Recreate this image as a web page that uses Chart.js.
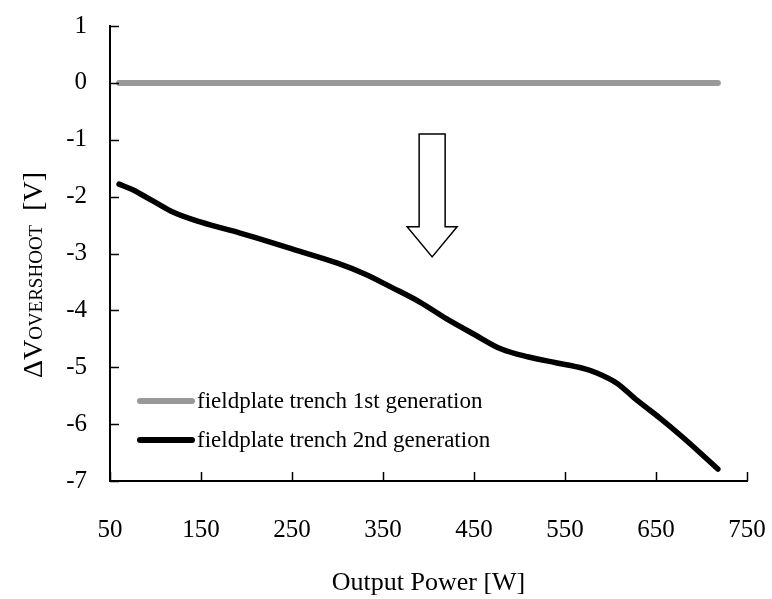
<!DOCTYPE html>
<html>
<head>
<meta charset="utf-8">
<script src="https://cdn.jsdelivr.net/npm/chart.js@4.4.0/dist/chart.umd.min.js"></script>
<style>
  body { margin: 0; background: #fff; }
</style>
</head>
<body>
<canvas id="overshootChart" width="772" height="599"></canvas>
<script>
// values
const xTicks = [50, 150, 250, 350, 450, 550, 650, 750];
const yTicks = [1, 0, -1, -2, -3, -4, -5, -6, -7];

const gen1Power = [60, 718];
const gen1Delta = [0, 0];

const gen2Power = [60, 75, 83, 100, 119, 150, 193, 210, 250, 300, 330, 360, 390, 420, 450, 480, 510, 540, 570, 585, 607, 629, 654, 680, 718];
const gen2Delta = [-1.78, -1.88, -1.95, -2.1, -2.27, -2.45, -2.64, -2.72, -2.92, -3.17, -3.36, -3.6, -3.85, -4.15, -4.42, -4.68, -4.82, -4.92, -5.02, -5.1, -5.28, -5.58, -5.89, -6.24, -6.79];

const seriesNames = ['fieldplate trench 1st generation', 'fieldplate trench 2nd generation'];

// hollow arrow in data units
const arrowX = 404;
const arrowTop = -0.9;
const arrowNeck = -2.53;
const arrowTip = -3.06;

const serif = "'Liberation Serif', 'Times New Roman', serif";

function toPoints(xs, ys) {
    return xs.map((x, i) => ({ x: x, y: ys[i] }));
}

const decorations = {
    id: 'decorations',
    afterDraw(chart) {
        const ctx = chart.ctx;
        const xs = chart.scales.x;
        const ys = chart.scales.y;
        const area = chart.chartArea;

        // inward tick marks
        ctx.save();
        ctx.strokeStyle = '#000';
        ctx.lineWidth = 1.5;
        ctx.beginPath();
        yTicks.forEach(v => {
            const py = Math.round(ys.getPixelForValue(v)) + 0.5;
            ctx.moveTo(area.left, py);
            ctx.lineTo(area.left + 9, py);
        });
        xTicks.forEach(v => {
            const px = Math.round(xs.getPixelForValue(v)) + 0.5;
            ctx.moveTo(px, area.bottom);
            ctx.lineTo(px, area.bottom - 9);
        });
        ctx.stroke();

        // arrow
        const cx = xs.getPixelForValue(arrowX);
        const top = ys.getPixelForValue(arrowTop);
        const neck = ys.getPixelForValue(arrowNeck);
        const tip = ys.getPixelForValue(arrowTip);
        const shaft = 13, head = 25;
        ctx.beginPath();
        ctx.moveTo(cx - shaft, top);
        ctx.lineTo(cx + shaft, top);
        ctx.lineTo(cx + shaft, neck);
        ctx.lineTo(cx + head, neck);
        ctx.lineTo(cx, tip);
        ctx.lineTo(cx - head, neck);
        ctx.lineTo(cx - shaft, neck);
        ctx.closePath();
        ctx.fillStyle = '#fff';
        ctx.fill();
        ctx.lineWidth = 1.5;
        ctx.stroke();

        // legend inside the plot
        ctx.font = '23px ' + serif;
        ctx.textBaseline = 'middle';
        ctx.textAlign = 'left';
        chart.data.datasets.forEach((ds, i) => {
            const ly = area.bottom - 80 + i * 39;
            ctx.beginPath();
            ctx.strokeStyle = ds.borderColor;
            ctx.lineWidth = 6;
            ctx.lineCap = 'round';
            ctx.moveTo(area.left + 30, ly);
            ctx.lineTo(area.left + 82, ly);
            ctx.stroke();
            ctx.fillStyle = '#000';
            ctx.fillText(ds.label, area.left + 87, ly + 1);
        });

        // y axis title: ΔV with small-caps subscript
        ctx.translate(42, 275);
        ctx.rotate(-Math.PI / 2);
        ctx.textBaseline = 'alphabetic';
        const parts = [
            { t: '\u0394V', f: '28px ' + serif },
            { t: 'OVERSHOOT', f: '19px ' + serif },
            { t: '  [V]', f: '28px ' + serif }
        ];
        let total = 0;
        parts.forEach(p => { ctx.font = p.f; p.w = ctx.measureText(p.t).width; total += p.w; });
        let pos = -total / 2;
        ctx.fillStyle = '#000';
        parts.forEach(p => {
            ctx.font = p.f;
            ctx.fillText(p.t, pos, 0);
            pos += p.w;
        });
        ctx.restore();
    }
};

const chartCanvas = document.getElementById('overshootChart').getContext('2d');

window.overshootChart = new Chart(chartCanvas, {
    type: 'line',
    data: {
        datasets: [{
            label: seriesNames[0],
            data: toPoints(gen1Power, gen1Delta),
            borderColor: '#999999',
            backgroundColor: '#999999',
            borderWidth: 6,
            borderCapStyle: 'round',
            pointRadius: 0,
            fill: false
        }, {
            label: seriesNames[1],
            data: toPoints(gen2Power, gen2Delta),
            borderColor: '#000000',
            backgroundColor: '#000000',
            borderWidth: 5.5,
            borderCapStyle: 'round',
            borderJoinStyle: 'round',
            cubicInterpolationMode: 'monotone',
            pointRadius: 0,
            fill: false
        }]
    },
    options: {
        responsive: false,
        animation: false,
        layout: {
            padding: { left: 0, right: 25, top: 26, bottom: 0 }
        },
        plugins: {
            legend: { display: false },
            tooltip: { enabled: false }
        },
        scales: {
            x: {
                type: 'linear',
                min: 50,
                max: 750,
                afterBuildTicks: scale => { scale.ticks = xTicks.map(v => ({ value: v })); },
                afterFit: scale => { scale.height = 118; },
                grid: { display: true, drawOnChartArea: false, drawTicks: true, tickLength: 34, tickColor: 'rgba(0,0,0,0)' },
                border: { display: true, color: '#000', width: 2 },
                ticks: {
                    color: '#000',
                    padding: 0,
                    maxRotation: 0,
                    font: { family: serif, size: 25 }
                },
                title: {
                    display: true,
                    text: 'Output Power [W]',
                    color: '#000',
                    padding: { top: 0, bottom: 0 },
                    font: { family: serif, size: 26 }
                }
            },
            y: {
                min: -7,
                max: 1,
                afterBuildTicks: scale => { scale.ticks = yTicks.map(v => ({ value: v })); },
                afterFit: scale => { scale.width = 110; },
                grid: { display: true, drawOnChartArea: false, drawTicks: true, tickLength: 23, tickColor: 'rgba(0,0,0,0)' },
                border: { display: true, color: '#000', width: 2 },
                ticks: {
                    color: '#000',
                    padding: 0,
                    font: { family: serif, size: 25 }
                }
            }
        }
    },
    plugins: [decorations]
});
</script>
</body>
</html>
